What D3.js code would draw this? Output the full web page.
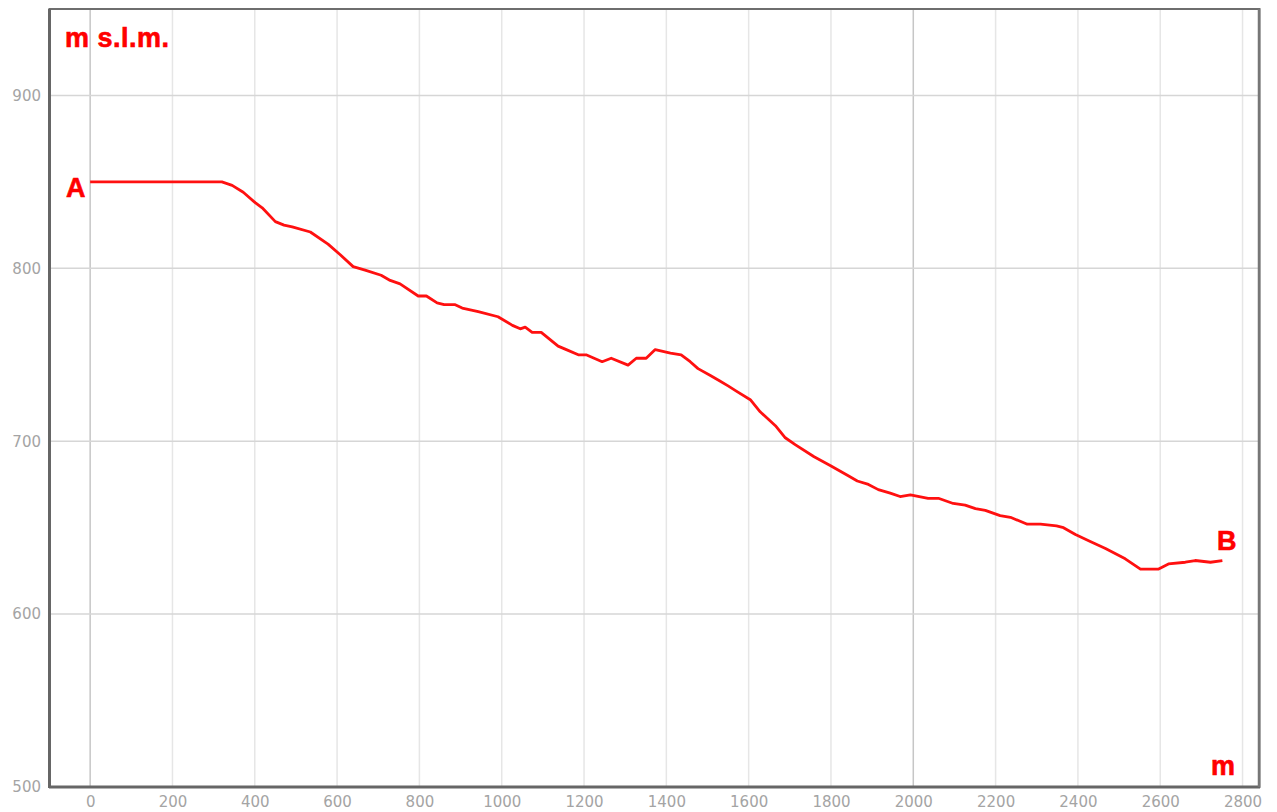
<!DOCTYPE html>
<html><head><meta charset="utf-8">
<script src="https://cdn.jsdelivr.net/npm/d3@7"></script>
<style>body{margin:0;background:#fff;}svg{display:block;}</style>
</head><body>
<svg id="c" width="1277" height="812"></svg>
<script>
const distance = [0,320,345,372,401,418,450,471,491,535,578,607,639,668,707,729,753,797,817,843,860,887,904,943,991,1026,1045,1057,1074,1096,1137,1157,1186,1205,1244,1266,1307,1327,1351,1373,1410,1436,1458,1477,1507,1529,1550,1570,1604,1628,1665,1689,1713,1759,1798,1842,1864,1891,1915,1944,1968,1993,2036,2061,2097,2126,2151,2175,2211,2236,2277,2309,2348,2365,2394,2430,2467,2515,2552,2595,2620,2661,2685,2722,2751];
const elevation = [850,850,848,844,838,835,827,825,824,821,814,808,801,799,796,793,791,784,784,780,779,779,777,775,772,767,765,766,763,763,755,753,750,750,746,748,744,748,748,753,751,750,746,742,738,735,732,729,724,717,709,702,698,691,686,680,677,675,672,670,668,669,667,667,664,663,661,660,657,656,652,652,651,650,646,642,638,632,626,626,629,630,631,630,631];
const xTicks = [0,200,400,600,800,1000,1200,1400,1600,1800,2000,2200,2400,2600,2800];
const yTicks = [500,600,700,800,900];
const xMajor = [0,2000];

const svg = d3.select('#c');
const x = d3.scaleLinear().domain([-100,2840]).range([49,1259]);
const y = d3.scaleLinear().domain([500,950]).range([787,9]);

// grid
svg.append('g').selectAll('line').data(xTicks).join('line')
  .attr('x1',d=>x(d)).attr('x2',d=>x(d)).attr('y1',y(950)).attr('y2',y(500))
  .attr('stroke',d=>xMajor.includes(d)?'#c6c6c6':'#e6e6e6').attr('stroke-width',1.5);
svg.append('g').selectAll('line').data(yTicks.filter(d=>d>500)).join('line')
  .attr('x1',x(-100)).attr('x2',x(2840)).attr('y1',d=>y(d)).attr('y2',d=>y(d))
  .attr('stroke','#d6d6d6').attr('stroke-width',1.5);

// axes labels
const xAxis = d3.axisBottom(x).tickValues(xTicks).tickFormat(d3.format('d')).tickSize(0).tickPadding(9);
const gx = svg.append('g').attr('transform',`translate(0,${y(500)})`).call(xAxis);
const yAxis = d3.axisLeft(y).tickValues(yTicks).tickFormat(d3.format('d')).tickSize(0).tickPadding(8);
const gy = svg.append('g').attr('transform',`translate(${x(-100)},0)`).call(yAxis);
[gx,gy].forEach(g=>{
  g.select('.domain').remove();
  g.selectAll('text').attr('fill','#a4a4a4').attr('font-family','DejaVu Sans, Verdana, sans-serif').attr('font-size',15);
});

// frame
svg.append('rect').attr('x',x(-100)+0.5).attr('y',y(950)).attr('width',x(2840)-x(-100)).attr('height',y(500)-y(950))
  .attr('fill','none').attr('stroke','#6e6e6e').attr('stroke-width',2);
svg.append('line').attr('x1',x(-100)+0.5).attr('x2',x(-100)+0.5).attr('y1',y(950)).attr('y2',y(500)+1).attr('stroke','#666').attr('stroke-width',3);
svg.append('line').attr('x1',x(-100)).attr('x2',x(2840)+1).attr('y1',y(500)).attr('y2',y(500)).attr('stroke','#666').attr('stroke-width',3);
svg.append('line').attr('x1',x(2840)).attr('x2',x(2840)).attr('y1',y(950)).attr('y2',y(500)).attr('stroke','#777').attr('stroke-width',2.5);

// profile line
const pts = distance.map((d,i)=>[d,elevation[i]]);
svg.append('path').datum(pts)
  .attr('d',d3.line().x(d=>x(d[0])).y(d=>y(d[1])))
  .attr('fill','none').attr('stroke','#ff1010').attr('stroke-width',2.8).attr('stroke-linejoin','round');

// red labels
const red = (t,px,py,anchor='start')=>svg.append('text').text(t).attr('x',px).attr('y',py)
  .attr('fill','#ff0000').attr('font-family','Liberation Sans, Arial, sans-serif').attr('font-weight','bold')
  .attr('font-size',27).attr('letter-spacing',0.5).attr('stroke','#ff0000').attr('stroke-width',0.6).attr('text-anchor',anchor);
red('m s.l.m.',65,47);
red('A',66,197);
red('B',1217,550);
red('m',1211,775);
</script>
</body></html>
